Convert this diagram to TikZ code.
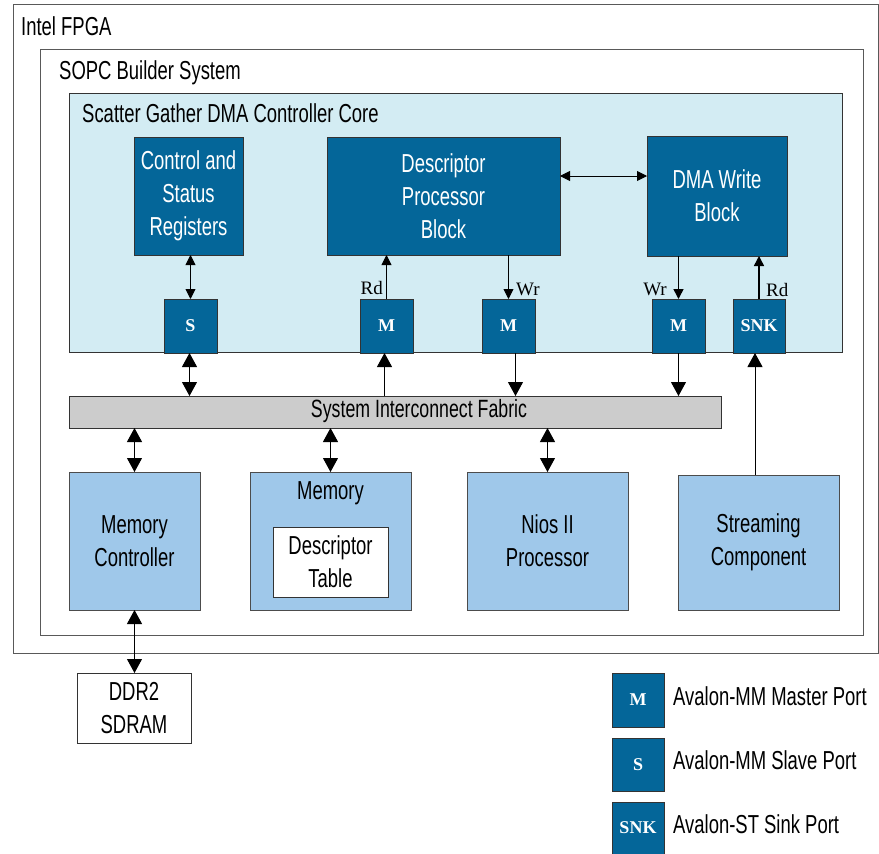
\documentclass[tikz,border=0pt]{standalone}
\usepackage{fontspec}
\setmainfont[FakeStretch=0.71]{Liberation Sans}
\newfontfamily\portfont{Liberation Serif}
\usetikzlibrary{arrows.meta}
\definecolor{dblue}{HTML}{046699}
\definecolor{cyanbg}{HTML}{D3ECF3}
\definecolor{lblue}{HTML}{9FC8EA}
\definecolor{fabgray}{HTML}{CCCCCC}
\newcommand{\bigtxt}{\fontsize{26}{33}\selectfont}
\begin{document}
\begin{tikzpicture}[x=1pt,y=-1pt,
  frame/.style={draw=black!65, line width=1pt, inner sep=0pt, outer sep=0pt},
  dbox/.style={draw=black!80, line width=0.8pt, fill=dblue, text=white, inner sep=0pt, outer sep=0pt, align=center, font=\bigtxt},
  lbox/.style={draw=black!70, line width=0.8pt, fill=lblue, inner sep=0pt, outer sep=0pt, align=center, font=\bigtxt},
  wbox/.style={draw=black!80, line width=0.8pt, fill=white, inner sep=0pt, outer sep=0pt, align=center, font=\bigtxt},
  port/.style={draw=black!80, line width=0.8pt, fill=dblue, text=white, minimum width=53pt, minimum height=54pt, inner sep=0pt, outer sep=0pt, font=\portfont\bfseries\fontsize{18}{18}\selectfont},
  txt/.style={inner sep=0pt, font=\bigtxt},
  rw/.style={inner sep=0pt, font=\portfont\fontsize{19}{19}\selectfont},
  small/.style={line width=0.9pt, >={Triangle[length=10pt,width=10pt]}},
  big/.style={line width=1pt, >={Triangle[length=14pt,width=15pt]}}
]
\useasboundingbox (0,0) rectangle (879,854);
% frames
\node[frame, minimum width=865pt, minimum height=649pt] (fpga) at (445.5,328.5) {};
\node[txt, anchor=base west] (fpgalbl) at (21,35) {Intel FPGA};
\node[frame, minimum width=823pt, minimum height=586pt] (sopc) at (451.5,342) {};
\node[txt, anchor=base west] (sopclbl) at (59,79) {SOPC Builder System};
\node[frame, draw=black!80, fill=cyanbg, minimum width=773pt, minimum height=259pt] (sg) at (455.5,222.5) {};
\node[txt, anchor=base west] (sglbl) at (82,122) {Scatter Gather DMA Controller Core};
% core blocks
\node[dbox, minimum width=109pt, minimum height=118pt] (csr) at (188.5,196) {Control and\\Status\\Registers};
\node[dbox, minimum width=233pt, minimum height=118pt] (dpb) at (443.5,196) {Descriptor\\Processor\\Block};
\node[dbox, minimum width=140pt, minimum height=120pt] (dwb) at (717,196) {DMA Write\\Block};
% ports
\node[port] (ps) at (190.5,326) {S};
\node[port] (pm1) at (386.5,326) {M};
\node[port] (pm2) at (508.5,326) {M};
\node[port] (pm3) at (678.5,326) {M};
\node[port, minimum width=52pt] (psnk) at (759,326) {SNK};
% fabric
\node[frame, draw=black!80, fill=fabgray, minimum width=652pt, minimum height=32pt] (fabric) at (395,412) {};
\node[txt, font=\fontsize{25}{25}\selectfont] (fablbl) at (419,411) {System Interconnect Fabric};
% lower blocks
\node[lbox, minimum width=131pt, minimum height=138pt] (memctl) at (134.5,541) {Memory\\Controller};
\node[lbox, minimum width=161pt, minimum height=138pt] (mem) at (330.5,541) {};
\node[txt] (memlbl) at (330.5,493) {Memory};
\node[wbox, minimum width=115pt, minimum height=70pt] (dtab) at (330.5,562) {Descriptor\\Table};
\node[lbox, minimum width=161pt, minimum height=138pt] (nios) at (547.5,541) {Nios II\\Processor};
\node[lbox, minimum width=161pt, minimum height=135pt] (strm) at (758.5,542.5) {Streaming\\Component};
\node[wbox, minimum width=114pt, minimum height=70pt] (ddr) at (134,708) {DDR2\\SDRAM};
% legend
\node[port, minimum width=52pt] (lm) at (638,700) {M};
\node[port, minimum width=52pt, minimum height=53pt] (ls) at (638,764.5) {S};
\node[port, minimum width=52pt, minimum height=52pt] (lsnk) at (638,828) {SNK};
\node[txt, anchor=west] (lmt) at (673,696) {Avalon-MM Master Port};
\node[txt, anchor=west] (lst) at (673,760) {Avalon-MM Slave Port};
\node[txt, anchor=west] (lsnkt) at (673,824) {Avalon-ST Sink Port};
% inner connectors
\draw[small, <->] (ps.north) -- (ps.north |- csr.south);
\draw[small, <->] ([yshift=20pt]dpb.east) -- ([yshift=20pt]dwb.west);
\draw[small, ->] (pm1.north) -- (pm1.north |- dpb.south);
\draw[small, ->] (pm2.north |- dpb.south) -- (pm2.north);
\draw[small, line width=1.5pt, ->] (pm3.north |- dwb.south) -- (pm3.north);
\draw[small, line width=1.5pt, ->] (psnk.north) -- (psnk.north |- dwb.south);
\node[rw, anchor=east] (rd1) at (383,288) {Rd};
\node[rw, anchor=west] (wr1) at (516,289) {Wr};
\node[rw, anchor=east] (wr2) at (667,289) {Wr};
\node[rw, anchor=west] (rd2) at (766,290) {Rd};
% ports to fabric
\draw[big, <->] ([xshift=-1pt]ps.south) -- ([xshift=-1pt]ps.south |- fabric.north);
\draw[big, ->] ([xshift=-2pt]pm1.south |- fabric.north) -- ([xshift=-2pt]pm1.south);
\draw[big, ->] ([xshift=7pt]pm2.south) -- ([xshift=7pt]pm2.south |- fabric.north);
\draw[big, ->] (pm3.south) -- (pm3.south |- fabric.north);
\draw[big, ->] ([xshift=-4pt]psnk.south |- strm.north) -- ([xshift=-4pt]psnk.south);
% fabric to lower blocks
\draw[big, <->] (memctl.north |- fabric.south) -- (memctl.north);
\draw[big, <->] (mem.north |- fabric.south) -- (mem.north);
\draw[big, <->] (nios.north |- fabric.south) -- (nios.north);
\draw[big, <->] (memctl.south) -- (memctl.south |- ddr.north);
\end{tikzpicture}
\end{document}
